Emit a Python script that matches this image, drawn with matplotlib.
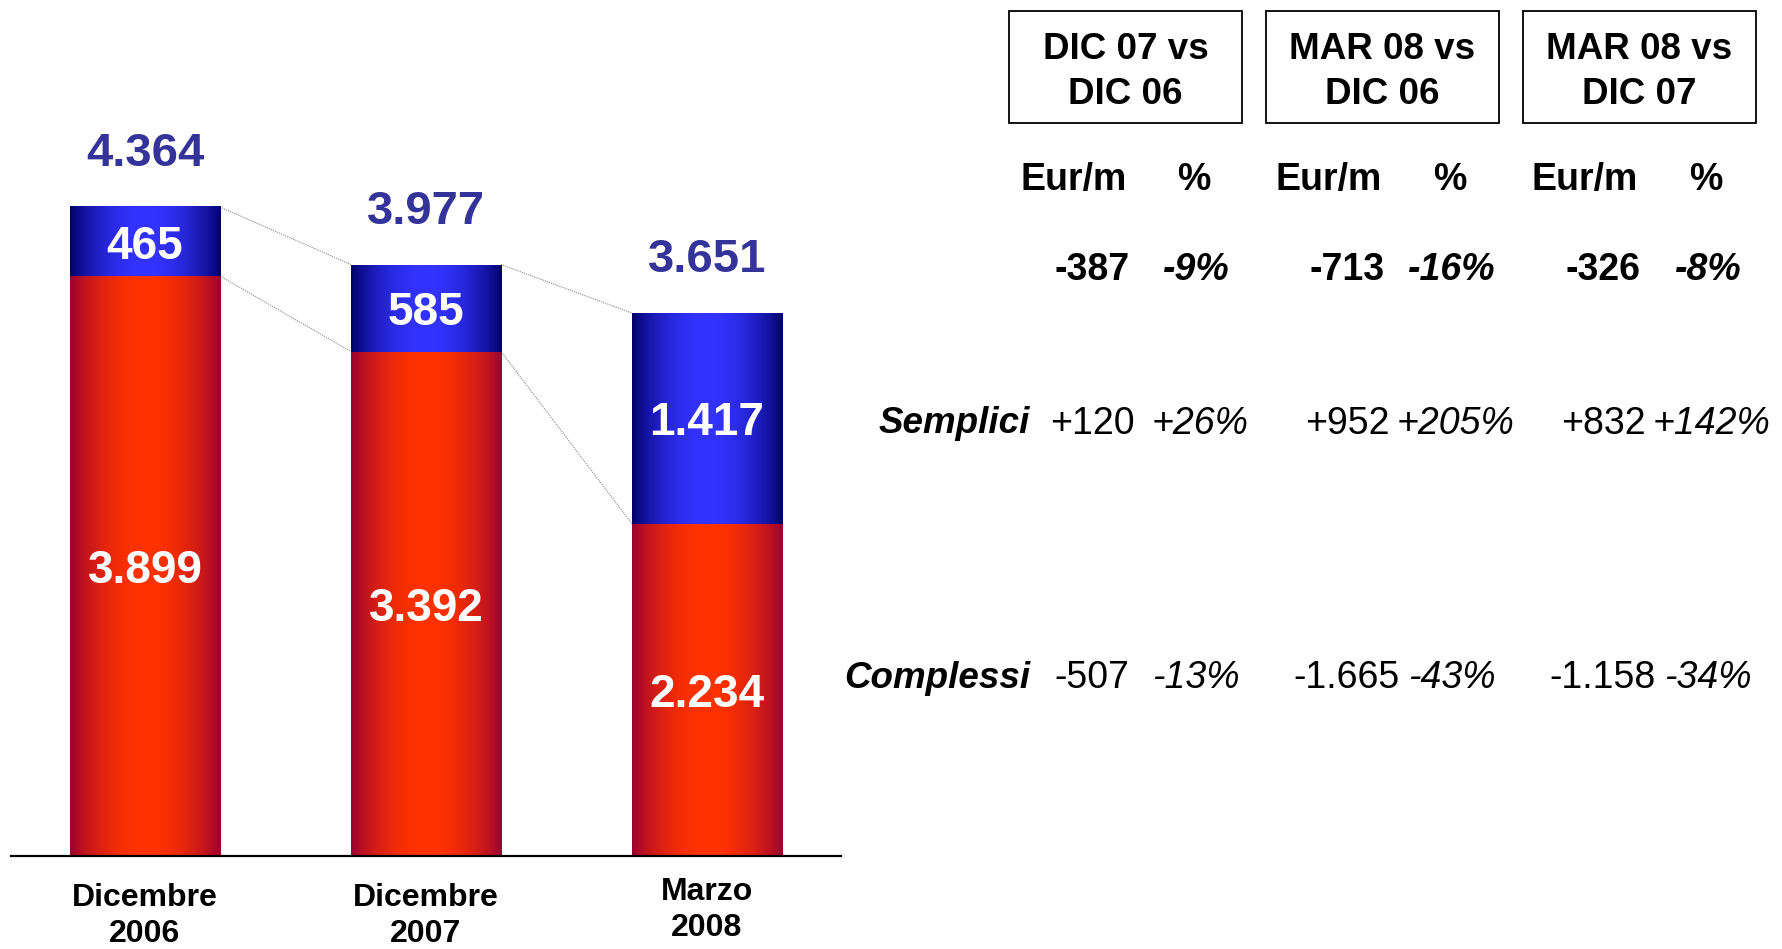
import numpy as np
import matplotlib.pyplot as plt
from matplotlib.colors import to_rgb

plt.rcParams['font.family'] = ['Liberation Sans', 'DejaVu Sans']

# data
categories = ['Dicembre\n2006', 'Dicembre\n2007', 'Marzo\n2008']
complessi = [3899, 3392, 2234]
semplici = [465, 585, 1417]
totali = [4364, 3977, 3651]

comparisons = ['DIC 07 vs\nDIC 06', 'MAR 08 vs\nDIC 06', 'MAR 08 vs\nDIC 07']
tot_eur = ['-387', '-713', '-326']
tot_pct = ['-9%', '-16%', '-8%']
sem_eur = ['+120', '+952', '+832']
sem_pct = ['+26%', '+205%', '+142%']
com_eur = ['-507', '-1.665', '-1.158']
com_pct = ['-13%', '-43%', '-34%']

W, H = 1783, 949
fig = plt.figure(figsize=(W / 100, H / 100), dpi=100)


def fx(x):
    return x / W


def fy(y):
    return 1 - y / H


# bar chart area
ax = fig.add_axes([fx(11), fy(856), fx(830), 856 / H])
ymax = 856 / ((856 - 207) / 4364)
bw = 0.534


def gradient(edge, center, n=256):
    u = np.linspace(0, 1, n)
    t = np.sin(np.pi * u) ** 0.8
    e = np.array(to_rgb(edge))
    c = np.array(to_rgb(center))
    return (e[None, :] * (1 - t[:, None]) + c[None, :] * t[:, None])[None, :, :]


red_grad = gradient('#990033', '#ff3300')
blue_grad = gradient('#000066', '#3333ff')

x = np.arange(len(categories))
for i in x:
    ax.imshow(red_grad, extent=(i - bw / 2, i + bw / 2, 0, complessi[i]),
              aspect='auto', zorder=2)
    ax.imshow(blue_grad, extent=(i - bw / 2, i + bw / 2, complessi[i], totali[i]),
              aspect='auto', zorder=2)
    ax.text(i, complessi[i] / 2, f'{complessi[i] / 1000:.3f}', color='white',
            fontsize=33, fontweight='bold', ha='center', va='center_baseline', zorder=3)
    blue_lbl = f'{semplici[i] / 1000:.3f}' if semplici[i] >= 1000 else str(semplici[i])
    ax.text(i, complessi[i] + semplici[i] / 2, blue_lbl, color='white',
            fontsize=33, fontweight='bold', ha='center', va='center_baseline', zorder=3)
    ax.text(i, totali[i] + 58 / ((856 - 207) / 4364), f'{totali[i] / 1000:.3f}',
            color='#333399', fontsize=34, fontweight='bold', ha='center',
            va='center_baseline', zorder=3)

# connector lines
for i in range(len(x) - 1):
    for vals in (totali, complessi):
        ax.plot([i + bw / 2, i + 1 - bw / 2], [vals[i], vals[i + 1]],
                color='#888888', lw=0.8, ls=(0, (1, 1)), zorder=1)

ax.set_xlim(-0.477, 2.477)
ax.set_ylim(0, ymax)
for s in ['top', 'left', 'right']:
    ax.spines[s].set_visible(False)
ax.spines['bottom'].set_linewidth(1.6)
ax.set_yticks([])
ax.set_xticks([])

label_y = [916, 916, 910]
for i, cat in enumerate(categories):
    fig.text(fx(145 + i * 281), fy(label_y[i]), cat, fontsize=23, fontweight='bold',
             ha='center', va='center', linespacing=1.28)

# comparison table
box_l = [1009, 1266, 1523]
box_w = 233
eur_x = [1092, 1347, 1603]
pct_x = [1196, 1452, 1708]
for j in range(3):
    fig.patches.append(plt.Rectangle((fx(box_l[j]), fy(123)), fx(box_w), 112 / H,
                                     transform=fig.transFigure, fill=False,
                                     edgecolor='black', lw=1.3))
    fig.text(fx(box_l[j] + box_w / 2), fy(72), comparisons[j], fontsize=26.5,
             fontweight='bold', ha='center', va='center', linespacing=1.4)
    fig.text(fx(eur_x[j] - 18), fy(176), 'Eur/m', fontsize=27, fontweight='bold',
             ha='center', va='center_baseline')
    fig.text(fx(pct_x[j] - 2), fy(176), '%', fontsize=27, fontweight='bold',
             ha='center', va='center_baseline')
    fig.text(fx(eur_x[j]), fy(266), tot_eur[j], fontsize=27, fontweight='bold',
             ha='center', va='center_baseline')
    fig.text(fx(pct_x[j]), fy(266), tot_pct[j], fontsize=27, fontweight='bold',
             style='italic', ha='center', va='center_baseline')
    fig.text(fx(eur_x[j]), fy(420), sem_eur[j], fontsize=27, ha='center',
             va='center_baseline')
    fig.text(fx(pct_x[j] + 4), fy(420), sem_pct[j], fontsize=27, style='italic',
             ha='center', va='center_baseline')
    fig.text(fx(eur_x[j]), fy(674), com_eur[j], fontsize=27, ha='center',
             va='center_baseline')
    fig.text(fx(pct_x[j]), fy(674), com_pct[j], fontsize=27, style='italic',
             ha='center', va='center_baseline')

fig.text(fx(1030), fy(420), 'Semplici', fontsize=26.5, fontweight='bold',
         style='italic', ha='right', va='center_baseline')
fig.text(fx(1030), fy(674), 'Complessi', fontsize=26.5, fontweight='bold',
         style='italic', ha='right', va='center_baseline')

fig.savefig('out.png', dpi=100)
